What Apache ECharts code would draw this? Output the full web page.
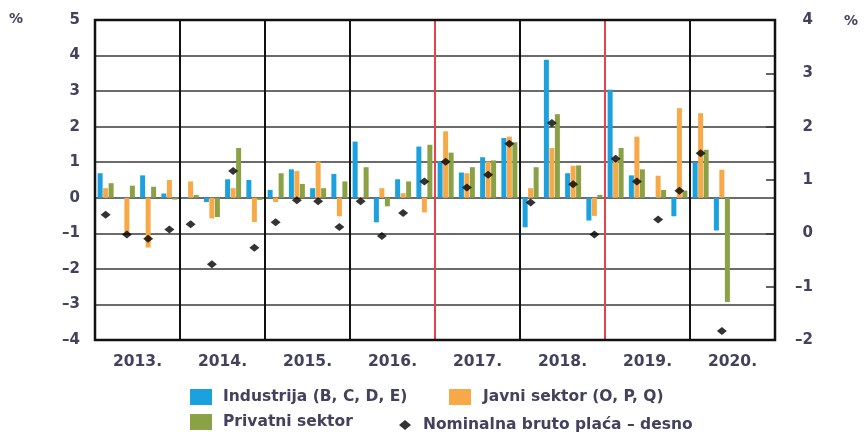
<!DOCTYPE html>
<html><head><meta charset="utf-8">
<script src="https://cdn.jsdelivr.net/npm/echarts@6/dist/echarts.min.js"></script>
<style>html,body{margin:0;padding:0;background:#fff}#c{width:864px;height:432px}</style>
</head><body><div id="c"></div>
<script>
const years = ['2013.', '2014.', '2015.', '2016.', '2017.', '2018.', '2019.', '2020.'];
const quarters = years.flatMap(y => ['Q1 ' + y, 'Q2 ' + y, 'Q3 ' + y, 'Q4 ' + y]);
const industrija = [
  0.69, -0.02, 0.63, 0.12,
  -0.02, -0.12, 0.52, 0.50,
  0.22, 0.80, 0.27, 0.67,
  1.58, -0.69, 0.52, 1.44,
  1.02, 0.71, 1.14, 1.68,
  -0.83, 3.88, 0.69, -0.64,
  3.04, 0.63, 0.02, -0.52,
  1.00, -0.92, null, null];
const javni = [
  0.27, -0.97, -1.40, 0.50,
  0.46, -0.58, 0.27, -0.68,
  -0.12, 0.75, 1.02, -0.52,
  0.02, 0.27, 0.13, -0.41,
  1.87, 0.69, 1.02, 1.72,
  0.27, 1.40, 0.90, -0.51,
  1.05, 1.72, 0.62, 2.52,
  2.38, 0.79, null, null];
const privatni = [
  0.41, 0.34, 0.31, -0.05,
  0.08, -0.54, 1.40, -0.06,
  0.69, 0.39, 0.27, 0.46,
  0.86, -0.24, 0.46, 1.49,
  1.27, 0.86, 1.05, 1.56,
  0.86, 2.35, 0.91, 0.08,
  1.40, 0.80, 0.22, 0.20,
  1.35, -2.93, null, null];
const placa = [
  0.35, -0.02, -0.10, 0.07,
  0.17, -0.58, 1.17, -0.27,
  0.21, 0.62, 0.60, 0.12,
  0.60, -0.05, 0.38, 0.97,
  1.34, 0.86, 1.10, 1.68,
  0.58, 2.07, 0.92, -0.02,
  1.40, 0.97, 0.26, 0.80,
  1.50, -1.83, null, null];
const redLinesAt = [4, 6];

const names = ['Industrija (B, C, D, E)', 'Javni sektor (O, P, Q)', 'Privatni sektor', 'Nominalna bruto plaća – desno'];
const colors = ['#1ba1dd', '#f8a947', '#8aa145'];
const txt = '#42425c';
const font = 'DejaVu Sans, sans-serif';
const fmt = v => String(v).replace('-', '–');

const chart = echarts.init(document.getElementById('c'));
const barSeries = (name, data, color) => ({
  name, type: 'bar', data, xAxisIndex: 0, yAxisIndex: 0,
  barWidth: 5, barGap: '10%', itemStyle: { color }, z: 3, animation: false
});
const legendItem = (name, left, top, icon, pad) => ({
  data: [{ name, icon }], left, top,
  itemWidth: icon === 'diamond' ? 12 : 22, itemHeight: icon === 'diamond' ? 10 : 16,
  textStyle: { fontFamily: font, fontSize: 15.5, fontWeight: 'bold', color: txt, padding: [0, 0, 0, pad] },
  selectedMode: false
});
chart.setOption({
  animation: false,
  grid: { left: 95, right: 89, top: 20, bottom: 92, show: true, borderColor: '#111', borderWidth: 2.5, z: 4 },
  xAxis: [
    { type: 'category', data: quarters, show: false, boundaryGap: true },
    { type: 'category', data: years, boundaryGap: true, position: 'bottom',
      axisLine: { show: false }, axisTick: { show: false },
      axisLabel: { fontFamily: font, fontSize: 15.5, fontWeight: 'bold', color: txt, margin: 14 },
      splitLine: { show: true, interval: 0, lineStyle: { color: '#111', width: 2 } } },
    { type: 'value', min: 0, max: 8, show: false }
  ],
  yAxis: [
    { type: 'value', min: -4, max: 5, interval: 1,
      axisLine: { show: false }, axisTick: { show: false },
      axisLabel: { fontFamily: font, fontSize: 15, fontWeight: 'bold', color: txt, margin: 15, formatter: fmt },
      splitLine: { show: true, lineStyle: { color: '#3a3a3a', width: 1.5 } } },
    { type: 'value', min: -2, max: 4, interval: 1, position: 'right',
      axisLine: { show: false },
      axisTick: { show: true, inside: true, length: 9, lineStyle: { color: '#333', width: 1.5 } },
      axisLabel: { fontFamily: font, fontSize: 15, fontWeight: 'bold', color: txt, margin: 38, align: 'right', formatter: fmt },
      splitLine: { show: false } }
  ],
  legend: [
    legendItem(names[0], 185, 384, 'rect', 6),
    legendItem(names[1], 444, 384, 'rect', 7),
    legendItem(names[2], 185, 409, 'rect', 6),
    legendItem(names[3], 394, 412, 'diamond', 7)
  ],
  graphic: [
    { type: 'text', left: 9, top: 12, style: { text: '%', font: 'bold 14px ' + font, fill: txt } },
    { type: 'text', left: 844, top: 14, style: { text: '%', font: 'bold 14px ' + font, fill: txt } }
  ],
  series: [
    barSeries(names[0], industrija, colors[0]),
    barSeries(names[1], javni, colors[1]),
    barSeries(names[2], privatni, colors[2]),
    { name: names[3], type: 'scatter', data: placa, xAxisIndex: 0, yAxisIndex: 1,
      symbol: 'diamond', symbolSize: [10, 8], itemStyle: { color: '#000' }, z: 6 },
    { type: 'line', xAxisIndex: 2, yAxisIndex: 0, data: [], silent: true,
      markLine: { symbol: 'none', silent: true, label: { show: false }, z: 3,
        lineStyle: { color: '#e8424c', width: 2, type: 'solid' },
        data: redLinesAt.map(v => ({ xAxis: v })) } }
  ]
});
</script></body></html>
